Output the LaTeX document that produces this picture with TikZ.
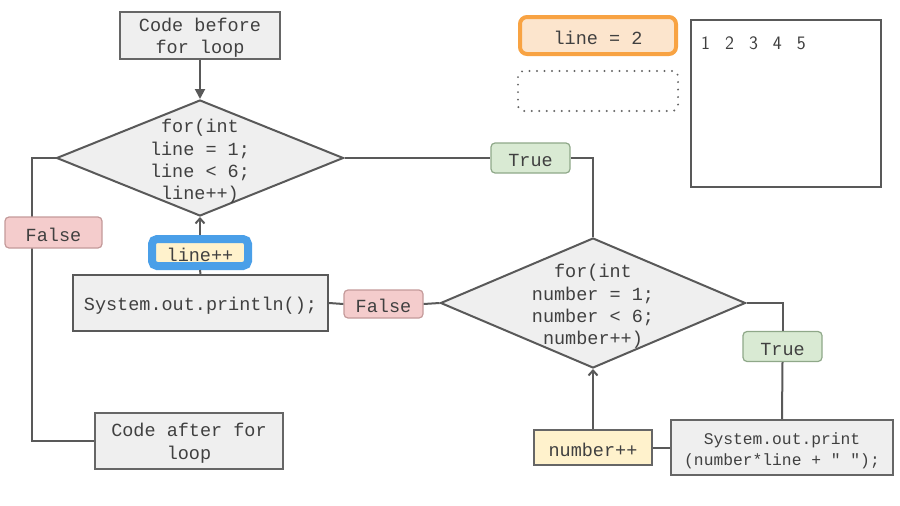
\documentclass[tikz,border=0pt]{standalone}
\usepackage{fontspec}
\setmainfont{Liberation Sans}
\setmonofont{Liberation Mono}
\usetikzlibrary{shapes.geometric,arrows.meta}

\definecolor{linegray}{HTML}{595959}
\definecolor{boxgray}{HTML}{666666}
\definecolor{codefill}{HTML}{EFEFEF}
\definecolor{textgray}{HTML}{404040}
\definecolor{falsefill}{HTML}{F4CCCC}
\definecolor{falsedraw}{HTML}{C49A9A}
\definecolor{truefill}{HTML}{D9EAD3}
\definecolor{truedraw}{HTML}{8FA889}
\definecolor{incfill}{HTML}{FFF2CC}
\definecolor{hlblue}{HTML}{4A9FE8}
\definecolor{varorange}{HTML}{F8A343}
\definecolor{varfill}{HTML}{FCE5CD}

\newcommand{\firstline}{\rule{0pt}{18pt}}

\tikzset{
  codefont/.style={font=\ttfamily\fontsize{18.5}{22.4}\selectfont, text=textgray,
    execute at begin node={\rule{0pt}{18pt}}},
  codebox/.style={draw=boxgray, line width=1.5pt, fill=codefill,
    codefont, align=center, inner sep=0pt},
  decision/.style={diamond, draw=linegray, line width=2pt, fill=codefill, inner sep=0pt},
  falsebox/.style={draw=falsedraw, line width=1.2pt, fill=falsefill, rounded corners=4pt,
    codefont, inner sep=0pt, minimum width=79pt, minimum height=28pt},
  truebox/.style={draw=truedraw, line width=1.2pt, fill=truefill, rounded corners=4pt,
    codefont, inner sep=0pt, minimum width=79pt, minimum height=30pt},
  incbox/.style={draw=boxgray, line width=1.2pt, fill=incfill,
    codefont, inner sep=0pt},
  conn/.style={draw=linegray, line width=2pt},
}

\begin{document}
\begin{tikzpicture}[x=1pt,y=1pt,yscale=-1,xscale=1]
\useasboundingbox (0,0) rectangle (900,506);

% outer loop
\node[codebox, minimum width=160pt, minimum height=47pt] (before) at (200,35.5) {\firstline Code before\\for loop};
\node[decision, minimum width=287pt, minimum height=116pt,
  label={[codefont, align=center, yshift=-3.5pt]center:{for(int\\line = 1;\\line < 6;\\line++)}}] (loopA) at (200,158) {};
\node[codebox, line width=2pt, draw=linegray, minimum width=255pt, minimum height=56pt] (println) at (200.5,303) {System.out.println();};
\node[incbox, draw=hlblue, line width=8pt, rounded corners=5pt, minimum width=96pt, minimum height=27pt] (incA) at (200,252.5) {line++};
\node[codebox, minimum width=188pt, minimum height=56pt] (after) at (189,441) {\firstline Code after for\\loop};

% inner loop
\node[decision, minimum width=305pt, minimum height=130pt,
  label={[codefont, align=center, yshift=-3.5pt]center:{for(int\\number = 1;\\number < 6;\\number++)}}] (loopB) at (593,303) {};
\node[truebox] (trueA) at (530.5,158) {True};
\node[falsebox] (falseB) at (383.5,304) {False};
\node[truebox] (trueB) at (782.5,346.5) {True};
\node[codebox, minimum width=222pt, minimum height=55pt, font=\ttfamily\fontsize{16.3}{21}\selectfont] (printB) at (782,447.5) {\firstline System.out.print\\(number*line + " ");};
\node[incbox, minimum width=118pt, minimum height=35pt] (incB) at (593,447.5) {number++};

% variables and output
\node[draw=varorange, line width=4pt, fill=varfill, rounded corners=7pt, codefont,
  minimum width=156pt, minimum height=37pt, inner sep=0pt] (lineval) at (598,35.5) {line = 2};
\node[draw=boxgray, line width=2.2pt, dash pattern=on 0pt off 7.5pt, line cap=round, rounded corners=6pt,
  minimum width=160pt, minimum height=40pt] (nextval) at (598,91) {};
\node[draw=linegray, line width=2pt, minimum width=190pt, minimum height=167pt] (output) at (786,103.5) {};
\node[anchor=base west, inner sep=0pt, text=textgray,
  font=\sffamily\fontsize{19}{22}\selectfont] (outtext) at (701,49.5) {\spaceskip=15pt\relax 1 2 3 4 5};

% connectors
\draw[conn, -{Triangle[length=10pt,width=10pt]}] (before.south) -- (loopA.north);
\draw[conn] (loopA.east) -- (trueA.west);
\draw[conn] (trueA.east) -| (loopB.north);
\draw[conn] (loopA.west) -- ++(-24pt,0) |- (after.west);
\draw[conn] (loopB.west) -- (falseB.east);
\draw[conn] (falseB.west) -- (println.east);
\draw[conn] (println.north) -- (incA.south);
\draw[conn, -{Straight Barb[length=5pt,width=9pt]}] (incA.north) -- (loopA.south);
\draw[conn] (loopB.east) -| (trueB.north);
\draw[conn] (trueB.south) -- (printB.north);
\draw[conn] (printB.west) -- (incB.east);
\draw[conn, -{Straight Barb[length=5pt,width=9pt]}] (incB.north) -- (loopB.south);

\node[falsebox, minimum width=97pt, minimum height=31pt] (falseA) at (53.5,232.5) {False};

\end{tikzpicture}
\end{document}
